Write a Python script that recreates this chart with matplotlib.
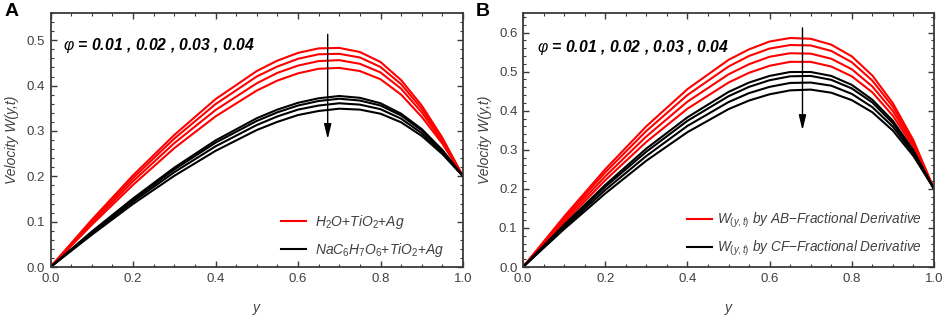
import matplotlib
matplotlib.use("Agg")
import matplotlib.pyplot as plt
from matplotlib.lines import Line2D
from matplotlib.ticker import MultipleLocator, FormatStrFormatter

plt.rcParams['font.family'] = ['Liberation Sans', 'DejaVu Sans']
plt.rcParams['mathtext.fontset'] = 'custom'
plt.rcParams['mathtext.it'] = 'Liberation Sans:italic'
plt.rcParams['mathtext.rm'] = 'Liberation Sans'
plt.rcParams['mathtext.bf'] = 'Liberation Sans:bold'

# ---------------- data ----------------
y_vals = [0.0, 0.1, 0.2, 0.3, 0.4, 0.5, 0.55, 0.6, 0.65, 0.7, 0.75, 0.8, 0.85, 0.9, 0.95, 1.0]

# Panel A: H2O + TiO2 + Ag (red), phi = 0.01 .. 0.04
a_red_1 = [0, 0.104, 0.202, 0.291, 0.370, 0.432, 0.455, 0.472, 0.482, 0.483, 0.474, 0.452, 0.412, 0.356, 0.285, 0.2]
a_red_2 = [0, 0.101, 0.196, 0.283, 0.359, 0.420, 0.442, 0.459, 0.469, 0.470, 0.462, 0.441, 0.403, 0.349, 0.281, 0.2]
a_red_3 = [0, 0.097, 0.189, 0.273, 0.346, 0.405, 0.428, 0.444, 0.454, 0.456, 0.448, 0.429, 0.393, 0.341, 0.277, 0.2]
a_red_4 = [0, 0.093, 0.181, 0.262, 0.332, 0.389, 0.411, 0.427, 0.437, 0.439, 0.432, 0.414, 0.380, 0.331, 0.272, 0.2]
# Panel A: NaC6H7O6 + TiO2 + Ag (black)
a_blk_1 = [0, 0.078, 0.151, 0.219, 0.279, 0.328, 0.347, 0.362, 0.372, 0.377, 0.373, 0.361, 0.338, 0.304, 0.258, 0.2]
a_blk_2 = [0, 0.076, 0.148, 0.215, 0.274, 0.322, 0.341, 0.356, 0.366, 0.371, 0.367, 0.356, 0.334, 0.301, 0.256, 0.2]
a_blk_3 = [0, 0.074, 0.144, 0.209, 0.266, 0.313, 0.332, 0.347, 0.356, 0.361, 0.358, 0.348, 0.327, 0.295, 0.252, 0.2]
a_blk_4 = [0, 0.071, 0.139, 0.201, 0.256, 0.302, 0.320, 0.335, 0.344, 0.349, 0.347, 0.338, 0.319, 0.289, 0.249, 0.2]

# Panel B: AB fractional derivative (red)
b_red_1 = [0, 0.129, 0.250, 0.360, 0.455, 0.530, 0.557, 0.577, 0.586, 0.584, 0.569, 0.539, 0.490, 0.419, 0.324, 0.2]
b_red_2 = [0, 0.125, 0.242, 0.348, 0.440, 0.513, 0.540, 0.559, 0.568, 0.567, 0.553, 0.524, 0.477, 0.410, 0.318, 0.2]
b_red_3 = [0, 0.120, 0.232, 0.334, 0.423, 0.493, 0.519, 0.538, 0.547, 0.546, 0.533, 0.506, 0.462, 0.399, 0.312, 0.2]
b_red_4 = [0, 0.114, 0.222, 0.320, 0.405, 0.472, 0.497, 0.515, 0.525, 0.525, 0.513, 0.488, 0.447, 0.387, 0.306, 0.2]
# Panel B: CF fractional derivative (black)
b_blk_1 = [0, 0.108, 0.210, 0.303, 0.383, 0.448, 0.472, 0.489, 0.499, 0.499, 0.489, 0.466, 0.428, 0.374, 0.298, 0.2]
b_blk_2 = [0, 0.105, 0.205, 0.295, 0.374, 0.437, 0.461, 0.478, 0.488, 0.489, 0.479, 0.457, 0.421, 0.368, 0.295, 0.2]
b_blk_3 = [0, 0.101, 0.197, 0.284, 0.361, 0.422, 0.445, 0.461, 0.471, 0.472, 0.464, 0.443, 0.409, 0.359, 0.290, 0.2]
b_blk_4 = [0, 0.097, 0.188, 0.272, 0.345, 0.404, 0.426, 0.442, 0.452, 0.454, 0.446, 0.427, 0.396, 0.349, 0.284, 0.2]

phi_text = r'$\varphi$ = 0.01 , 0.02 , 0.03 , 0.04'
legend_a = [r'$\mathit{H_2O{+}TiO_2{+}Ag}$', r'$\mathit{NaC_6H_7O_6{+}TiO_2{+}Ag}$']
legend_b = [r'$\mathit{W_{(y,t)}}$ by AB$-$Fractional Derivative',
            r'$\mathit{W_{(y,t)}}$ by CF$-$Fractional Derivative']

# arrow positions (data coords)
arrow_a = ((0.672, 0.513), (0.672, 0.282))
arrow_b = ((0.680, 0.612), (0.680, 0.350))

RED = '#ff0000'
GRAY = '#404040'
FRAME = '#3a3a3a'

fig = plt.figure(figsize=(9.48, 3.16), dpi=100)
axA = fig.add_axes([50.5 / 948, (316 - 267) / 316, 412.5 / 948, 254 / 316])
axB = fig.add_axes([523 / 948, (316 - 267) / 316, 411 / 948, 254 / 316])


def style(ax, ymax, ymajor):
    ax.set_xlim(0, 1)
    ax.set_ylim(0, ymax)
    ax.xaxis.set_major_locator(MultipleLocator(0.2))
    ax.xaxis.set_minor_locator(MultipleLocator(0.05))
    ax.yaxis.set_major_locator(MultipleLocator(ymajor))
    ax.yaxis.set_minor_locator(MultipleLocator(ymajor / 5))
    ax.tick_params(which='both', direction='in', top=True, right=True,
                   color=FRAME, labelcolor=GRAY, labelsize=9.5)
    ax.tick_params(which='major', length=4.5, width=1.0, pad=4)
    ax.tick_params(which='minor', length=2.5, width=0.8)
    ax.xaxis.set_major_formatter(FormatStrFormatter('%.1f'))
    ax.yaxis.set_major_formatter(FormatStrFormatter('%.1f'))
    for sp in ax.spines.values():
        sp.set_color(FRAME)
        sp.set_linewidth(1.3)
    ax.set_xlabel('y', fontstyle='italic', color=GRAY, fontsize=10, labelpad=12)
    ax.set_ylabel('Velocity W(y,t)', fontstyle='italic', color=GRAY, fontsize=10, labelpad=5)


lw = 1.5
for s in [a_red_1, a_red_2, a_red_3, a_red_4]:
    axA.plot(y_vals, s, color=RED, lw=lw)
for s in [a_blk_1, a_blk_2, a_blk_3, a_blk_4]:
    axA.plot(y_vals, s, color='black', lw=lw)
for s in [b_red_1, b_red_2, b_red_3, b_red_4]:
    axB.plot(y_vals, s, color=RED, lw=lw)
for s in [b_blk_1, b_blk_2, b_blk_3, b_blk_4]:
    axB.plot(y_vals, s, color='black', lw=lw)

style(axA, 0.56, 0.1)
style(axB, 0.65, 0.1)

for ax, arr in [(axA, arrow_a), (axB, arrow_b)]:
    ax.annotate('', xy=arr[1], xytext=arr[0],
                arrowprops=dict(arrowstyle='-|>,head_length=0.9,head_width=0.22',
                                color='black', lw=1.0, shrinkA=0, shrinkB=0))

axA.text(0.03, 0.874, phi_text, transform=axA.transAxes, fontsize=11.3,
         fontweight='bold', fontstyle='italic', va='center', ha='left')
axB.text(0.035, 0.866, phi_text, transform=axB.transAxes, fontsize=11.3,
         fontweight='bold', fontstyle='italic', va='center', ha='left')

hA = [Line2D([], [], color=RED, lw=1.5), Line2D([], [], color='black', lw=1.5)]
legA = axA.legend(hA, legend_a, loc='center left', bbox_to_anchor=(0.559, 0.122),
                  frameon=False, fontsize=10, handlelength=1.8, handletextpad=0.65,
                  labelspacing=0.75, borderpad=0, borderaxespad=0)
for t in legA.get_texts():
    t.set_color(GRAY)
    t.set_fontstyle('italic')

legB = axB.legend(hA, legend_b, loc='center left', bbox_to_anchor=(0.399, 0.128),
                  frameon=False, fontsize=9.8, handlelength=1.85, handletextpad=0.37,
                  labelspacing=0.65, borderpad=0, borderaxespad=0)
for t in legB.get_texts():
    t.set_color(GRAY)
    t.set_fontstyle('italic')

fig.text(5 / 948, 1 - 11 / 316, 'A', fontsize=14, fontweight='bold', va='center', ha='left')
fig.text(476 / 948, 1 - 11 / 316, 'B', fontsize=14, fontweight='bold', va='center', ha='left')

fig.savefig('out.png', dpi=100)
